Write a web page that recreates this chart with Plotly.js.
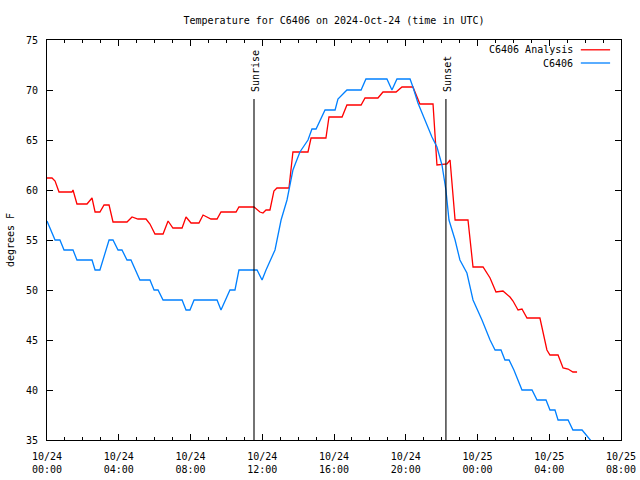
<!DOCTYPE html>
<html>
<head>
<meta charset="utf-8">
<script src="https://cdn.plot.ly/plotly-3.0.1.min.js"></script>
<style>html,body{margin:0;padding:0;background:#fff;}#chart{width:640px;height:480px;}</style>
</head>
<body>
<div id="chart"></div>
<script>
// Hours since 2024-10-24 00:00 UTC and temperatures (deg F)
var analysisHours = [0,0.28,0.45,0.67,1.39,1.45,1.67,2.23,2.51,2.68,2.95,3.18,3.46,3.68,4.46,4.74,5.07,5.52,5.74,6.02,6.47,6.75,7.02,7.53,7.75,8.03,8.47,8.70,9.14,9.48,9.70,10.54,10.70,11.54,11.87,12.04,12.21,12.43,12.65,12.82,13.49,13.71,14.55,14.72,15.55,15.72,16.45,16.72,17.51,17.73,18.45,18.73,19.46,19.79,20.40,20.79,21.52,21.74,22.30,22.47,22.75,23.47,23.75,24.31,24.70,25.03,25.42,25.81,25.98,26.26,26.48,26.76,27.48,27.87,28.04,28.49,28.77,29.05,29.32,29.55];
var analysisTemps = [61.2,61.2,60.9,59.8,59.8,60.0,58.6,58.6,59.2,57.8,57.8,58.5,58.5,56.8,56.8,57.3,57.1,57.1,56.6,55.6,55.6,56.9,56.2,56.2,57.3,56.7,56.7,57.5,57.1,57.1,57.8,57.8,58.3,58.3,57.8,57.7,58.0,58.0,59.9,60.2,60.2,63.8,63.8,65.2,65.2,67.3,67.3,68.5,68.5,69.2,69.2,69.8,69.8,70.3,70.3,68.6,68.6,62.5,62.6,63.0,57.0,57.0,52.3,52.3,51.2,49.8,49.9,49.3,48.9,48.0,48.1,47.2,47.2,44.0,43.5,43.5,42.2,42.1,41.8,41.8];

var obsHours = [0,0.45,0.72,0.95,1.45,1.67,2.51,2.68,2.95,3.46,3.68,3.96,4.18,4.46,4.68,5.18,5.74,5.97,6.19,6.47,7.53,7.75,7.97,8.20,9.48,9.70,10.20,10.48,10.70,11.71,11.99,12.21,12.71,13.05,13.38,13.71,14.10,14.55,14.77,15.00,15.50,16.06,16.22,16.72,17.51,17.78,18.95,19.23,19.51,20.24,20.40,20.68,21.07,21.46,21.74,22.02,22.24,22.41,22.75,23.02,23.41,23.75,24.25,24.70,24.98,25.31,25.53,25.76,26.03,26.48,27.04,27.32,27.82,28.04,28.32,28.49,29.05,29.32,29.83,30.27,30.61];
var obsTemps = [56.9,55.0,55.0,54.0,54.0,53.0,53.0,52.0,52.0,55.0,55.0,54.0,54.0,53.0,53.0,51.0,51.0,50.0,50.0,49.0,49.0,48.0,48.0,49.0,49.0,48.0,50.0,50.0,52.0,52.0,51.0,52.0,54.0,57.0,59.0,62.0,63.8,65.0,66.1,66.1,68.0,68.0,69.1,70.0,70.0,71.1,71.1,70.0,71.1,71.1,70.3,68.7,67.0,65.3,64.3,62.5,60.0,57.0,55.0,53.0,51.7,49.0,47.0,45.0,44.0,44.0,43.0,43.0,42.0,40.0,40.0,39.0,39.0,38.0,38.0,37.0,37.0,36.0,36.0,35.0,34.3];

var sunHours = [11.54, 22.24];
var sunLabels = ["Sunrise", "Sunset"];
var sunLineTop = 69.1;

var tickHours = [0,4,8,12,16,20,24,28,32];
var tickLabels = ["10/24<br>00:00","10/24<br>04:00","10/24<br>08:00","10/24<br>12:00","10/24<br>16:00","10/24<br>20:00","10/25<br>00:00","10/25<br>04:00","10/25<br>08:00"];
var yTicks = [35,40,45,50,55,60,65,70,75];

var seriesNames = ["C6406 Analysis", "C6406"];
var seriesColors = ["#ff0000", "#0080ff"];

var T0 = Date.UTC(2024, 9, 24, 0, 0, 0);
function toMs(h) { return T0 + h * 3600000; }

var font = "DejaVu Sans Mono, Liberation Mono, monospace";

var traces = [
  {x: analysisHours.map(toMs), y: analysisTemps, type: 'scatter', mode: 'lines', name: seriesNames[0],
   line: {color: seriesColors[0], width: 1.3}, showlegend: false},
  {x: obsHours.map(toMs), y: obsTemps, type: 'scatter', mode: 'lines', name: seriesNames[1],
   line: {color: seriesColors[1], width: 1.3}, showlegend: false}
];
sunHours.forEach(function (h, i) {
  traces.push({x: [toMs(h), toMs(h)], y: [sunLineTop, 35], type: 'scatter', mode: 'lines',
    name: sunLabels[i], line: {color: '#000', width: 1.1}, showlegend: false, hoverinfo: 'skip'});
});

var annotations = sunHours.map(function (h, i) {
  return {x: toMs(h), y: sunLineTop, xref: 'x', yref: 'y', text: sunLabels[i], textangle: -90,
    showarrow: false, xanchor: 'center', yanchor: 'bottom', yshift: 5, xshift: 1,
    font: {family: font, size: 10, color: '#000'}};
});
// legend (gnuplot style: text, then sample on the right)
var legY = [0.9755, 0.9425];
var shapes = [];
seriesNames.forEach(function (n, i) {
  annotations.push({x: 0.919, y: legY[i], xref: 'paper', yref: 'paper', text: n, showarrow: false,
    xanchor: 'right', yanchor: 'middle', font: {family: font, size: 10, color: '#000'}});
  shapes.push({type: 'line', xref: 'paper', yref: 'paper', x0: 0.93, x1: 0.981, y0: legY[i], y1: legY[i],
    line: {color: seriesColors[i], width: 1.3}});
});

var layout = {
  width: 640, height: 480,
  margin: {l: 47, r: 19, t: 40, b: 40},
  paper_bgcolor: '#fff', plot_bgcolor: '#fff',
  font: {family: font, size: 10, color: '#000'},
  title: {text: 'Temperature for C6406 on 2024-Oct-24 (time in UTC)', x: 0.5219, xanchor: 'center',
    y: 0.958, yref: 'container', yanchor: 'middle', font: {family: font, size: 10, color: '#000'}},
  xaxis: {type: 'date', range: [toMs(0), toMs(32)], tickmode: 'array',
    tickvals: tickHours.map(toMs), ticktext: tickLabels, ticks: 'inside', ticklen: 6, tickcolor: '#000',
    showline: true, linecolor: '#000', linewidth: 1, mirror: 'allticks', showgrid: false, zeroline: false,
    tickfont: {family: font, size: 10}, ticklabelstandoff: 7,
    minor: {ticks: 'inside', ticklen: 3, dtick: 3600000, tick0: toMs(0), tickcolor: '#000', showgrid: false}},
  yaxis: {range: [35, 75], tickmode: 'array', tickvals: yTicks, ticktext: yTicks.map(String),
    ticks: 'inside', ticklen: 6, tickcolor: '#000', showline: true, linecolor: '#000', linewidth: 1,
    mirror: 'allticks', showgrid: false, zeroline: false, tickfont: {family: font, size: 10},
    ticklabelstandoff: 6,
    title: {text: 'degrees F', font: {family: font, size: 10}, standoff: 9}},
  annotations: annotations,
  shapes: shapes,
  showlegend: false
};

Plotly.newPlot('chart', traces, layout, {staticPlot: true, displayModeBar: false});
</script>
</body>
</html>
